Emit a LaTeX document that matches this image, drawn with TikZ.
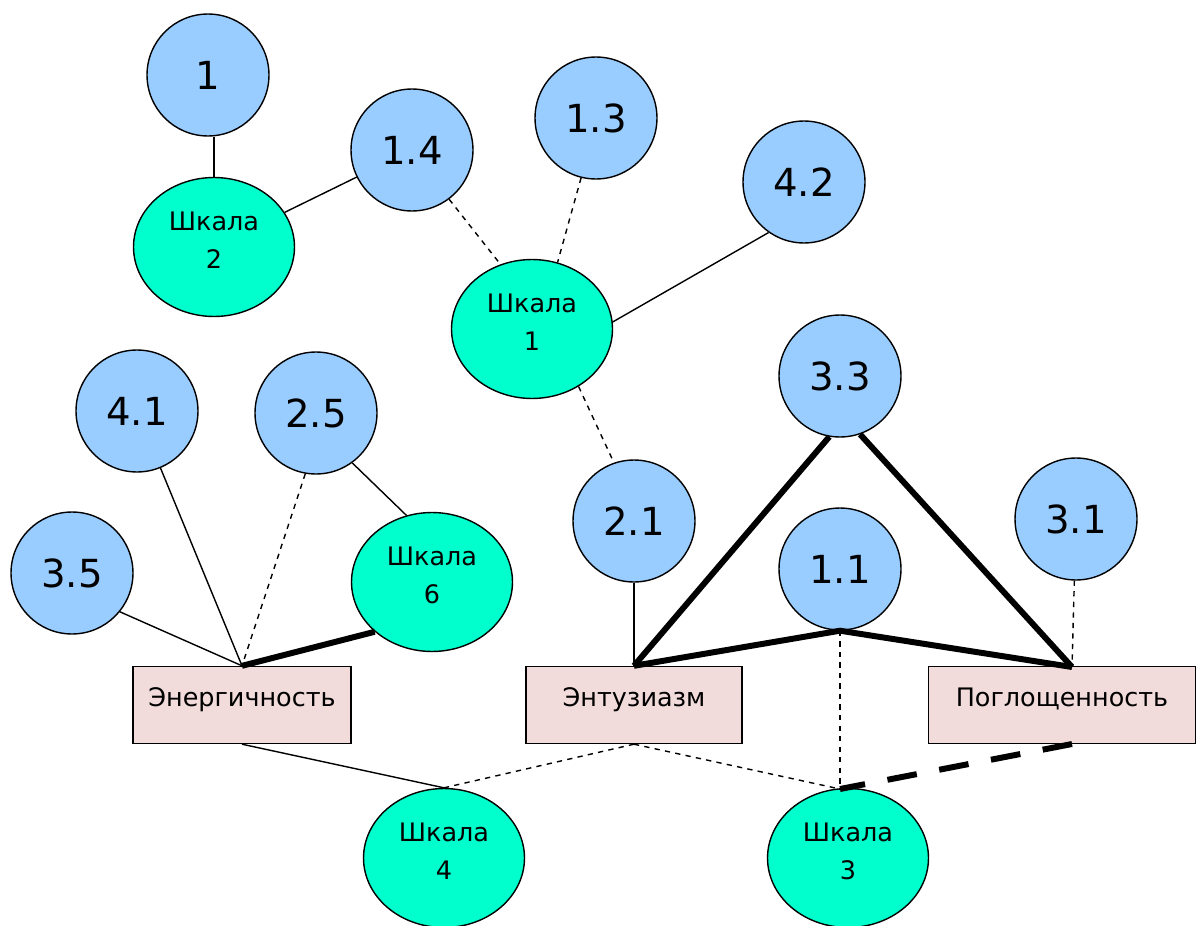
\documentclass[tikz,border=0pt]{standalone}
\usepackage{fontspec}
\setmainfont{DejaVu Sans}
\usetikzlibrary{shapes.geometric}

\definecolor{itemblue}{HTML}{99CCFF}
\definecolor{scaleaqua}{HTML}{00FFCC}
\definecolor{factorpink}{HTML}{F2DCDB}

\tikzset{
	item/.style = {circle, draw = black, line width = .8pt, fill = itemblue, minimum size = 2.44cm, inner sep = 0pt, font = \fontsize{22}{26}\selectfont},
	scalebox/.style = {ellipse, draw = black, line width = .8pt, fill = scaleaqua, minimum width = 3.22cm, minimum height = 2.78cm, inner sep = 0pt, align = center, font = \fontsize{14.5}{21.5}\selectfont, execute at end node = {\rule[-8pt]{0pt}{0pt}}},
	factor/.style = {rectangle, draw = black, line width = .8pt, fill = factorpink, minimum height = 1.54cm, inner sep = 0pt, font = \fontsize{14.5}{17}\selectfont, execute at end node = {\rule[-9pt]{0pt}{0pt}}},
	thin/.style = {line width = .8pt},
	heavy/.style = {line width = 3.4pt},
	heavydash/.style = {line width = 3.4pt, dash pattern = on 17pt off 13pt}
}

\begin{document}
\begin{tikzpicture}[x = .02cm, y = -.02cm]
	\useasboundingbox (0, 0) rectangle (1197, 926);
	
	% Шкала 2, Шкала 1
	\node [item] (i1) at (208, 75) {1};
	\node [item] (i14) at (412, 150) {1.4};
	\node [item] (i13) at (596, 118) {1.3};
	\node [item] (i42) at (804, 182) {4.2};
	\node [scalebox] (s2) at (214, 247) {Шкала\\2};
	\node [scalebox] (s1) at (532, 329) {Шкала\\1};
	
	% левая группа
	\node [item] (i41) at (137, 411) {4.1};
	\node [item] (i25) at (316, 413) {2.5};
	\node [item] (i35) at (72, 573) {3.5};
	\node [scalebox] (s6) at (432, 582) {Шкала\\6};
	
	% правая группа
	\node [item] (i33) at (840, 376) {3.3};
	\node [item] (i21) at (634, 521) {2.1};
	\node [item] (i11) at (840, 569) {1.1};
	\node [item] (i31) at (1076, 519) {3.1};
	
	% факторы
	\node [factor, minimum width = 4.36cm] (en) at (242, 705) {Энергичность};
	\node [factor, minimum width = 4.32cm] (ent) at (634, 705) {Энтузиазм};
	\node [factor, minimum width = 5.34cm] (pog) at (1062, 705) {Поглощенность};
	\coordinate (pogtop) at (1072, 667);
	\coordinate (pogbot) at (1072, 744);
	
	% нижние шкалы
	\node [scalebox] (s4) at (444, 858) {Шкала\\4};
	\node [scalebox] (s3) at (848, 858) {Шкала\\3};
	\coordinate (s3top) at (840, 789);
	
	% lines
	\draw [thin] (i1.south -| s2.north) -- (s2.north);
	\draw [thin] (s2) -- (i14);
	\draw [thin, dashed] (i14.307) -- (s1.116);
	\draw [thin, dashed] (i13.256) -- (s1.69);
	\draw [thin] (i42.235) -- (s1.5);
	\draw [thin, dashed] (s1.309) -- (i21.109);
	
	\draw [thin] (i41) -- (en.north);
	\draw [thin, dashed] (i25.260) -- (en.north);
	\draw [thin] (i35.321) -- (en.north);
	\draw [thin] (i25.306) -- (s6.111);
	\draw [heavy] (s6.221) -- (en.north);
	
	\draw [thin] (i21) -- (ent.north);
	\draw [heavy, line join = round] (ent.north) -- (i11.south) -- (pogtop);
	\draw [heavy] (i33.260) -- (ent.north);
	\draw [heavy] (i33.289) -- (pogtop);
	\draw [thin, dashed] (i31) -- (pogtop);
	
	\draw [thin] (en.south) -- (s4.north);
	\draw [thin, dashed] (ent.south) -- (s4.north);
	\draw [thin, dashed] (ent.south) -- (s3top);
	\draw [thin, dashed] (i11.south) -- (s3top);
	\draw [heavydash] (pogbot) -- (s3top);
\end{tikzpicture}
\end{document}
